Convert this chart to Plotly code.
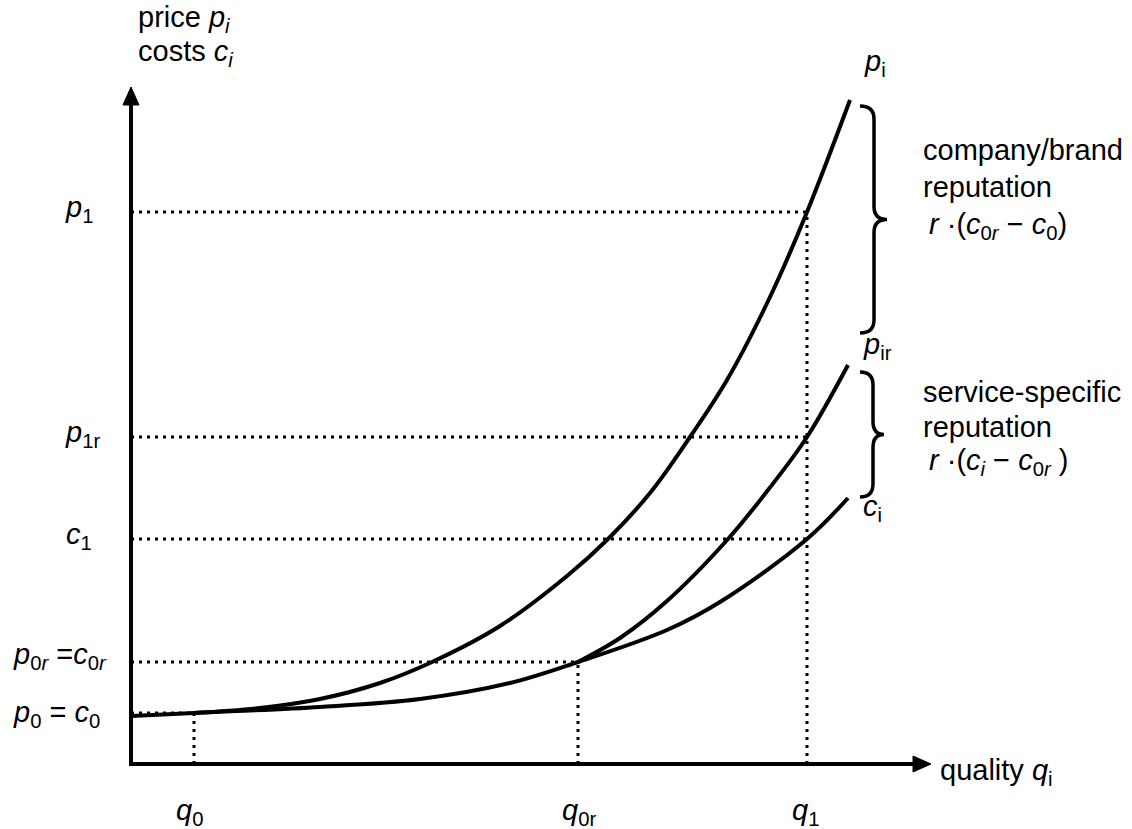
import plotly.graph_objects as go

# ---------------- data (arbitrary units) ----------------
# quality marks on the horizontal axis
q_names = ["q0", "q0r", "q1"]
q_values = [0.63, 4.47, 6.76]

# price / cost levels on the vertical axis
level_names = ["p0", "p0r", "c1", "p1r", "p1"]
level_values = [0.51, 1.02, 2.25, 3.27, 5.52]

# cost curve c_i
ci_q = [0.00, 0.63, 1.89, 2.89, 3.79, 4.47, 5.36, 5.89, 6.76, 7.17]
ci_v = [0.48, 0.51, 0.57, 0.65, 0.81, 1.02, 1.34, 1.62, 2.25, 2.66]

# price curve with service-specific reputation p_ir
pir_q = [4.47, 4.89, 5.36, 5.97, 6.37, 6.76, 7.17]
pir_v = [1.02, 1.26, 1.63, 2.25, 2.74, 3.27, 3.99]

# price curve with company/brand reputation p_i
pi_q = [0.63, 1.29, 1.89, 2.49, 3.01, 3.69, 4.36, 4.77, 5.19, 5.59, 5.96, 6.39, 6.76, 7.19]
pi_v = [0.51, 0.56, 0.65, 0.81, 1.02, 1.38, 1.88, 2.25, 2.71, 3.27, 3.84, 4.67, 5.52, 6.64]

# guides: (level name, quality name it runs to)
h_guides = [("p0", "q0"), ("p0r", "q0r"), ("c1", "q1"), ("p1r", "q1"), ("p1", "q1")]
v_guides = [("q0", "p0"), ("q0r", "p0r"), ("q1", "p1")]

# ---------------- layout helpers (reference pixel -> axis units) -------------
W, H = 1132, 829
OX, OY, S = 131, 764, 100.0
def X(px):
    return (px - OX) / S
def Y(py):
    return (OY - py) / S

FONT = "Liberation Sans, Arial, sans-serif"
FS = 29
DOT = "3px,5px"

lv = dict(zip(level_names, level_values))
qv = dict(zip(q_names, q_values))

fig = go.Figure()

# dotted guide lines
for lname, qname in h_guides:
    fig.add_trace(go.Scatter(x=[0, qv[qname]], y=[lv[lname], lv[lname]], mode="lines",
                             line=dict(color="black", width=3, dash=DOT),
                             hoverinfo="skip", showlegend=False))
for qname, lname in v_guides:
    fig.add_trace(go.Scatter(x=[qv[qname], qv[qname]], y=[0, lv[lname]], mode="lines",
                             line=dict(color="black", width=3, dash=DOT),
                             hoverinfo="skip", showlegend=False))

# curves
for xs, ys in [(ci_q, ci_v), (pir_q, pir_v), (pi_q, pi_v)]:
    fig.add_trace(go.Scatter(x=xs, y=ys, mode="lines",
                             line=dict(color="black", width=4, shape="spline", smoothing=1.0),
                             hoverinfo="skip", showlegend=False))

shapes = []
# axes
shapes.append(dict(type="path", xref="x", yref="y",
                   path=f"M {X(OX)},{Y(100)} L {X(OX)},{Y(OY)} L {X(916)},{Y(OY)}",
                   line=dict(color="black", width=4)))
# arrow heads
shapes.append(dict(type="path", xref="x", yref="y",
                   path=f"M {X(OX)},{Y(87)} L {X(OX-8)},{Y(105)} L {X(OX+8)},{Y(105)} Z",
                   fillcolor="black", line=dict(color="black", width=1)))
shapes.append(dict(type="path", xref="x", yref="y",
                   path=f"M {X(931)},{Y(OY)} L {X(913)},{Y(OY-8)} L {X(913)},{Y(OY+8)} Z",
                   fillcolor="black", line=dict(color="black", width=1)))

def brace(top, bot, hx, vx, tx, r=13):
    mid = (top + bot) / 2
    p = (f"M {X(hx)},{Y(top)} Q {X(vx)},{Y(top)} {X(vx)},{Y(top + r)} "
         f"L {X(vx)},{Y(mid - r)} Q {X(vx)},{Y(mid)} {X(tx)},{Y(mid)} "
         f"Q {X(vx)},{Y(mid)} {X(vx)},{Y(mid + r)} "
         f"L {X(vx)},{Y(bot - r)} Q {X(vx)},{Y(bot)} {X(hx)},{Y(bot)}")
    return dict(type="path", xref="x", yref="y", path=p, line=dict(color="black", width=3.5))

shapes.append(brace(106, 333, 860, 874, 887))
shapes.append(brace(372, 497, 860, 873, 884))

ann = []
def label(text, left_px, yc_px, size=FS):
    ann.append(dict(x=X(left_px), y=Y(yc_px), xref="x", yref="y", text=text,
                    showarrow=False, xanchor="left", yanchor="middle",
                    font=dict(family=FONT, size=size, color="black")))

I = lambda s: f"<i>{s}</i>"
# axis titles
label("price " + I("p") + "<sub>" + I("i") + "</sub>", 136, 19)
label("costs " + I("c") + "<sub>" + I("i") + "</sub>", 136, 53)
label("quality " + I("q") + "<sub>i</sub>", 938, 772)

# curve labels
label(I("p") + "<sub>i</sub>", 862, 63)
label(I("p") + "<sub>ir</sub>", 861, 346)
label(I("c") + "<sub>i</sub>", 861, 508)

# reputation texts
label("company/brand", 921, 150)
label("reputation", 921, 187)
label(I("r") + " ·(" + I("c") + "<sub>0" + I("r") + "</sub> − " + I("c") + "<sub>0</sub>)", 927, 226)
label("service-specific", 921, 392)
label("reputation", 921, 427)
label(I("r") + " ·(" + I("c") + "<sub>" + I("i") + "</sub> − " + I("c") + "<sub>0" + I("r") + "</sub> )", 927, 462)

# vertical axis level labels
label(I("p") + "<sub>1</sub>", 63, 209)
label(I("p") + "<sub>1r</sub>", 63, 434)
label(I("c") + "<sub>1</sub>", 64, 536)
label(I("p") + "<sub>0" + I("r") + "</sub> =" + I("c") + "<sub>0" + I("r") + "</sub>", 11, 656)
label(I("p") + "<sub>0</sub> = " + I("c") + "<sub>0</sub>", 11, 714)

# horizontal axis quality labels
label(I("q") + "<sub>0</sub>", 174, 812)
label(I("q") + "<sub>0r</sub>", 560, 812)
label(I("q") + "<sub>1</sub>", 790, 812)

fig.update_layout(
    width=W, height=H,
    margin=dict(l=0, r=0, t=0, b=0),
    paper_bgcolor="white", plot_bgcolor="white",
    xaxis=dict(range=[X(0), X(W)], visible=False, fixedrange=True),
    yaxis=dict(range=[Y(H), Y(0)], visible=False, fixedrange=True),
    shapes=shapes, annotations=ann, showlegend=False,
)

fig.write_html("out.html", config={"displayModeBar": False},
               post_script="document.body.style.margin='0';document.body.style.overflow='hidden';")
